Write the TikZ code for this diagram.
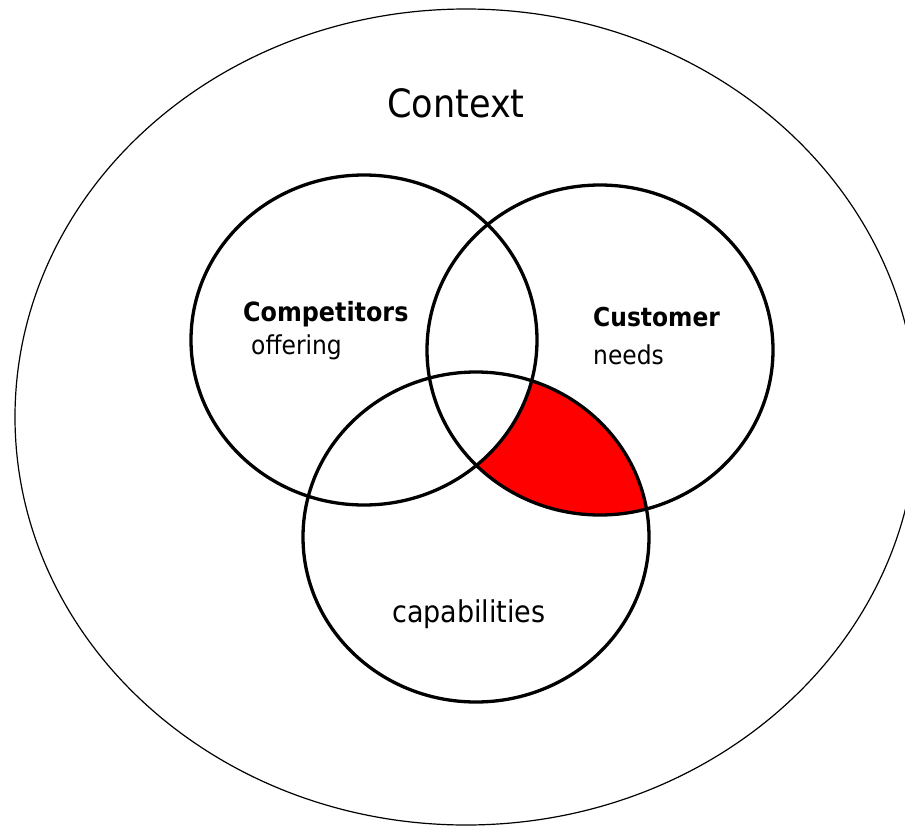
\documentclass[tikz,border=0pt]{standalone}
\usepackage{fontspec}
\setmainfont{DejaVu Sans Condensed}
\usepackage{tikz}

\tikzset{
  venn/.style={line width=3.3pt},
  lbl/.style={inner sep=0pt,anchor=base west}
}

\begin{document}
\begin{tikzpicture}[x=1pt,y=-1pt]
                \clip (0,0) rectangle (905,827);
                \fill[white] (0,0) rectangle (905,827);
                % context
                \draw[line width=1.2pt] (466,417) ellipse [x radius=451pt,y radius=408pt];
                \node[inner sep=0pt,anchor=base,font=\fontsize{39}{44}\selectfont] (context) at (456,117) {Context};
                % customer and capabilities, not competitors
                \begin{scope}
                  \clip (600,350) ellipse [x radius=173pt,y radius=165pt];
                  \clip (476,537) ellipse [x radius=173pt,y radius=165pt];
                  \fill[red,even odd rule] (0,0) rectangle (905,827) (364,340) ellipse [x radius=173pt,y radius=165pt];
                \end{scope}
                \draw[venn] (364,340) ellipse [x radius=173pt,y radius=165pt];
                \draw[venn] (600,350) ellipse [x radius=173pt,y radius=165pt];
                \draw[venn] (476,537) ellipse [x radius=173pt,y radius=165pt];
                \node[lbl,font=\bfseries\fontsize{26.5}{30}\selectfont] (comp) at (243,321) {Competitors};
                \node[lbl,font=\fontsize{26}{30}\selectfont] (offer) at (251,354) {offering};
                \node[lbl,font=\bfseries\fontsize{26}{30}\selectfont] (cust) at (593,326) {Customer};
                \node[lbl,font=\fontsize{26}{30}\selectfont] (needs) at (593,364) {needs};
                \node[lbl,font=\fontsize{30}{34}\selectfont] (capab) at (392,622) {capabilities};
              \end{tikzpicture}
\end{document}
